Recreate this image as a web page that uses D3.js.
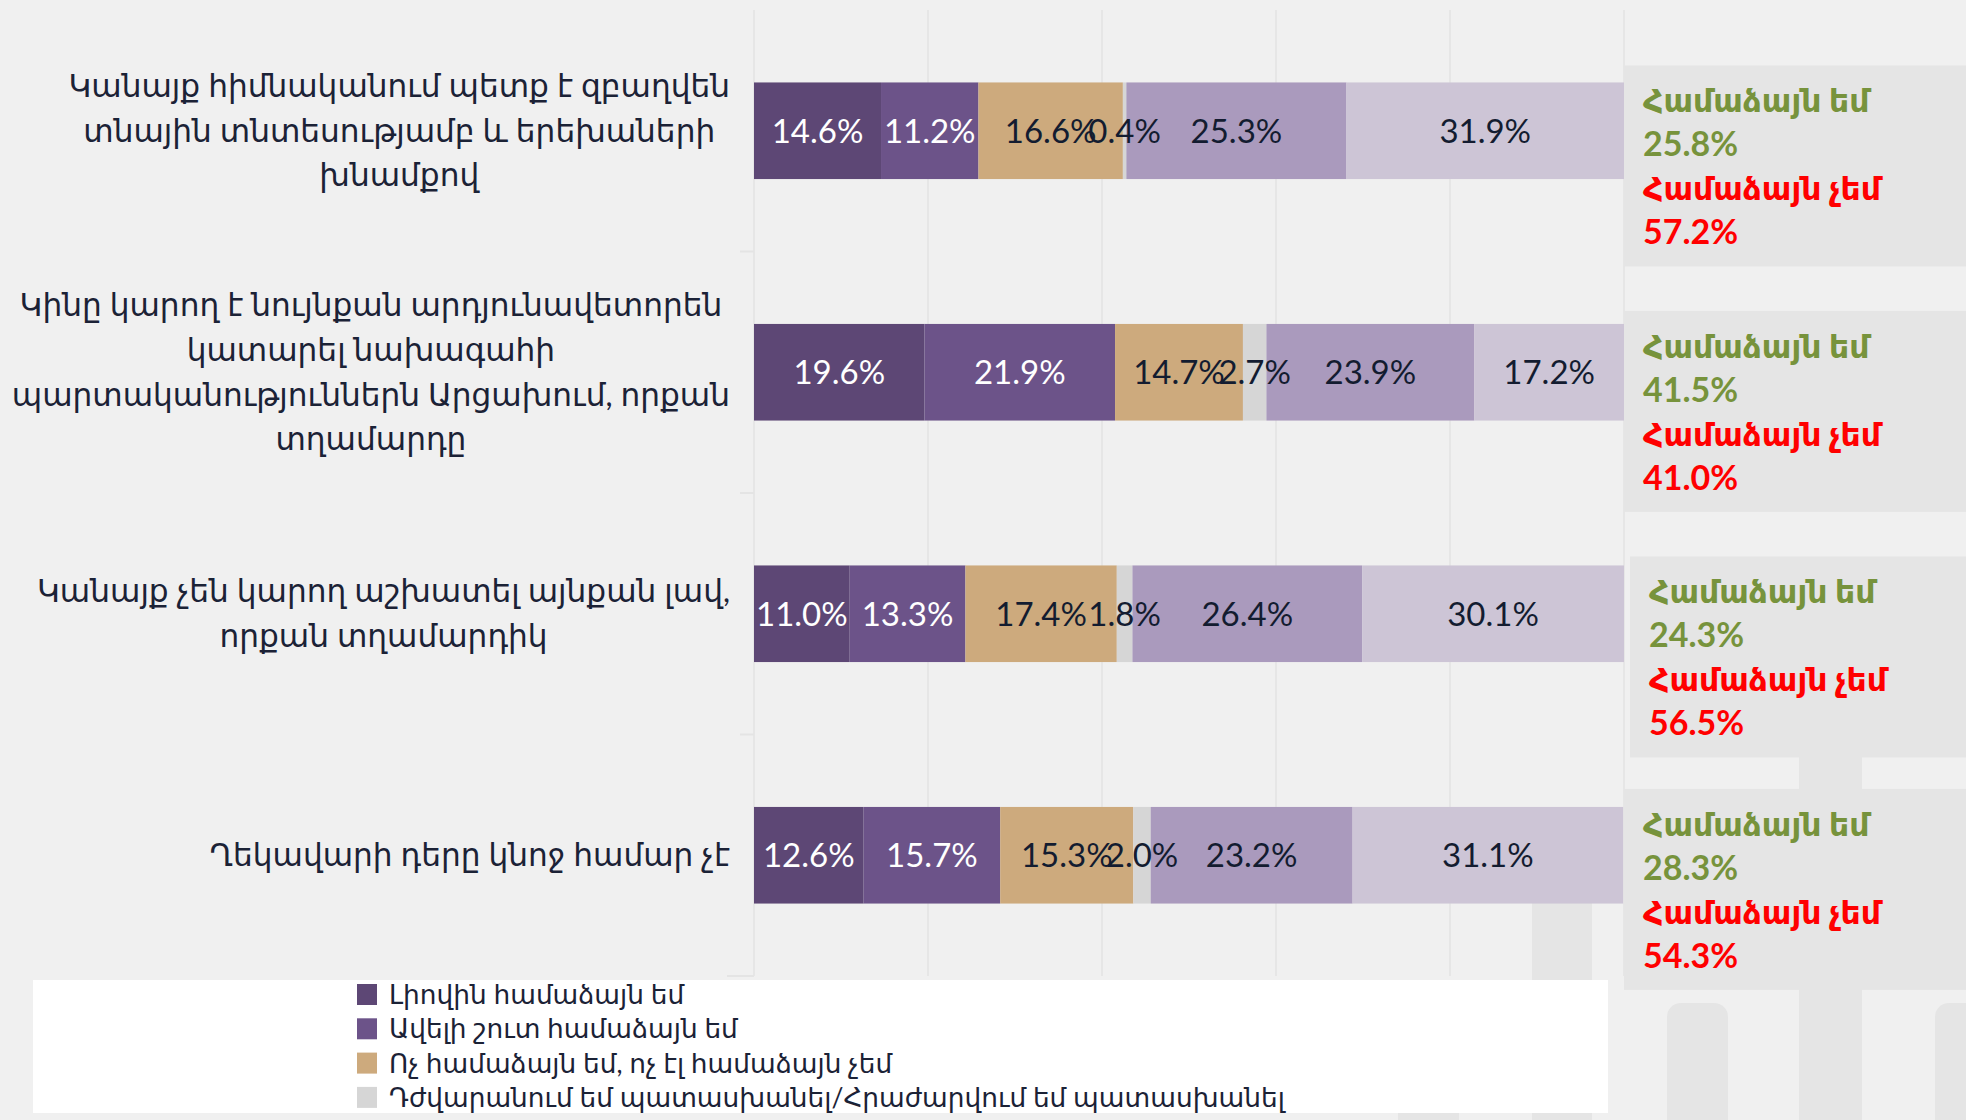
<!DOCTYPE html>
<html>
<head>
<meta charset="utf-8">
<script src="https://cdn.jsdelivr.net/npm/d3@7"></script>
<style>
  html, body { margin: 0; padding: 0; background: #f0f0f0; overflow: hidden; }
  svg text { font-family: Lato, "DejaVu Sans", sans-serif; }
</style>
</head>
<body>
<div id="chart"></div>
<script>
(function(){

    var width = 1966;
    var height = 1120;

    // categories (line breaks as in the original)
    var categories = [
        ["Կանայք հիմնականում պետք է զբաղվեն", "տնային տնտեսությամբ և երեխաների", "խնամքով"],
        ["Կինը կարող է նույնքան արդյունավետորեն", "կատարել նախագահի", "պարտականություններն Արցախում, որքան", "տղամարդը"],
        ["Կանայք չեն կարող աշխատել այնքան լավ,", "որքան տղամարդիկ"],
        ["Ղեկավարի դերը կնոջ համար չէ"]
    ];

    var seriesNames = [
        "Լիովին համաձայն եմ",
        "Ավելի շուտ համաձայն եմ",
        "Ոչ համաձայն եմ, ոչ էլ համաձայն չեմ",
        "Դժվարանում եմ պատասխանել/Հրաժարվում եմ պատասխանել",
        "Ավելի շուտ համաձայն չեմ",
        "Բոլորովին համաձայն չեմ"
    ];

    var fullyAgree     = [14.6, 19.6, 11.0, 12.6];
    var ratherAgree    = [11.2, 21.9, 13.3, 15.7];
    var neutral        = [16.6, 14.7, 17.4, 15.3];
    var dontKnow       = [0.4, 2.7, 1.8, 2.0];
    var ratherDisagree = [25.3, 23.9, 26.4, 23.2];
    var fullyDisagree  = [31.9, 17.2, 30.1, 31.1];

    var agreeTotals    = [25.8, 41.5, 24.3, 28.3];
    var disagreeTotals = [57.2, 41.0, 56.5, 54.3];

    var agreeLabel = "Համաձայն եմ";
    var disagreeLabel = "Համաձայն չեմ";

    var xTicks = [0, 20, 40, 60, 80, 100];

    var colours = ["#5d4775", "#6c5389", "#cdaa7d", "#d6d6d6", "#aa9abd", "#cdc5d6"];
    var labelColours = ["#ffffff", "#ffffff", "#131c30", "#131c30", "#131c30", "#131c30"];

    var margin = { top: 10, bottom: 144, left: 754, right: 342 };

    var svg = d3.select("#chart")
        .append("svg")
            .attr("width", width)
            .attr("height", height);

    // background decoration columns (slide template)
    var deco = [
        {x: 1398, y: 1100, w: 61, r: 0},
        {x: 1532, y: 903, w: 60, r: 0},
        {x: 1667, y: 1003, w: 61, r: 14},
        {x: 1799, y: 756, w: 63, r: 0},
        {x: 1935, y: 1003, w: 61, r: 14}
    ];
    svg.append("g").selectAll("rect")
        .data(deco)
        .enter().append("rect")
            .attr("x", function(d){ return d.x; })
            .attr("y", function(d){ return d.y; })
            .attr("width", function(d){ return d.w; })
            .attr("height", function(d){ return height - d.y + 20; })
            .attr("rx", function(d){ return d.r; })
            .attr("fill", "#e5e5e5");

    var innerW = width - margin.left - margin.right;
    var innerH = height - margin.top - margin.bottom;

    var x = d3.scaleLinear().domain([0, 100]).range([margin.left, margin.left + innerW]);
    var y = d3.scaleBand()
        .domain(d3.range(categories.length))
        .range([margin.top, margin.top + innerH])
        .paddingInner(0.6)
        .paddingOuter(0.3);

    // grid
    svg.append("g")
        .selectAll("line")
        .data(xTicks)
        .enter().append("line")
            .attr("x1", function(d){ return x(d); })
            .attr("x2", function(d){ return x(d); })
            .attr("y1", margin.top)
            .attr("y2", margin.top + innerH)
            .attr("stroke", "#e6e6e6")
            .attr("stroke-width", 2);

    // category separators on the left axis
    var step = y.step();
    svg.append("g")
        .selectAll("line")
        .data(d3.range(1, categories.length + 1))
        .enter().append("line")
            .attr("x1", function(d){ return d === categories.length ? margin.left - 27 : margin.left - 14; })
            .attr("x2", margin.left)
            .attr("y1", function(d){ return margin.top + d * step; })
            .attr("y2", function(d){ return margin.top + d * step; })
            .attr("stroke", "#e4e4e4")
            .attr("stroke-width", 2);

    var values = [fullyAgree, ratherAgree, neutral, dontKnow, ratherDisagree, fullyDisagree];

    var rows = categories.map(function(c, i){
        var row = { index: i };
        values.forEach(function(v, k){ row[k] = v[i]; });
        return row;
    });

    var stack = d3.stack().keys(d3.range(values.length));
    var stacked = stack(rows);

    var layer = svg.append("g")
        .selectAll("g")
        .data(stacked)
        .enter().append("g")
            .attr("fill", function(d){ return colours[d.key]; });

    layer.selectAll("rect")
        .data(function(d){ return d; })
        .enter().append("rect")
            .attr("x", function(d){ return x(d[0]); })
            .attr("y", function(d){ return y(d.data.index); })
            .attr("width", function(d){ return x(d[1]) - x(d[0]); })
            .attr("height", y.bandwidth());

    // value labels
    var fmt = d3.format(".1f");
    stacked.forEach(function(s){
        svg.append("g")
            .selectAll("text")
            .data(s)
            .enter().append("text")
                .attr("x", function(d){ return (x(d[0]) + x(d[1])) / 2; })
                .attr("y", function(d){ return y(d.data.index) + y.bandwidth() / 2; })
                .attr("dy", "0.36em")
                .attr("text-anchor", "middle")
                .attr("font-size", 33)
                .attr("fill", labelColours[s.key])
                .text(function(d){ return fmt(d[1] - d[0]) + "%"; });
    });

    // category labels: right aligned block, centred lines
    var lineH = 44.7;
    var labelRight = 730;
    categories.forEach(function(lines, i){
        var g = svg.append("g");
        var t = g.append("text")
            .attr("text-anchor", "middle")
            .attr("font-size", 31.2)
            .attr("fill", "#1b2236");
        var cy = y(i) + y.bandwidth() / 2;
        lines.forEach(function(l, j){
            t.append("tspan")
                .attr("x", 0)
                .attr("y", cy + (j - (lines.length - 1) / 2) * lineH)
                .attr("dy", "0.35em")
                .text(l);
        });
        var maxW = 0;
        t.selectAll("tspan").each(function(){
            maxW = Math.max(maxW, this.getComputedTextLength());
        });
        t.selectAll("tspan").attr("x", labelRight - maxW / 2);
    });

    // agree / disagree boxes on the right
    var boxOffsets = [-17, -13, -9, -18];
    var boxX = [1624, 1624, 1630, 1624];
    categories.forEach(function(c, i){
        var top = y(i) + boxOffsets[i];
        var g = svg.append("g").attr("transform", "translate(" + boxX[i] + "," + top + ")");
        g.append("rect")
            .attr("width", width - boxX[i])
            .attr("height", 201)
            .attr("fill", "#e5e5e5");
        var items = [
            {t: agreeLabel, c: "#77933c", s: 31.5},
            {t: fmt(agreeTotals[i]) + "%", c: "#77933c", s: 34},
            {t: disagreeLabel, c: "#ff0000", s: 31.5},
            {t: fmt(disagreeTotals[i]) + "%", c: "#ff0000", s: 34}
        ];
        g.selectAll("text")
            .data(items)
            .enter().append("text")
                .attr("x", 19)
                .attr("y", function(d, k){ return 47 + k * 44; })
                .attr("font-size", function(d){ return d.s; })
                .attr("font-weight", "bold")
                .attr("fill", function(d){ return d.c; })
                .text(function(d){ return d.t; });
    });

    // legend
    var legend = svg.append("g");
    legend.append("rect")
        .attr("x", 33)
        .attr("y", 980)
        .attr("width", 1575)
        .attr("height", 133)
        .attr("fill", "#ffffff");

    var legendItems = legend.selectAll("g")
        .data(seriesNames.slice(0, 4))
        .enter().append("g")
            .attr("transform", function(d, i){ return "translate(357," + (984 + i * 34.3) + ")"; });

    legendItems.append("rect")
        .attr("width", 20)
        .attr("height", 21)
        .attr("fill", function(d, i){ return colours[i]; });

    legendItems.append("text")
        .attr("x", 32)
        .attr("y", 10.5)
        .attr("dy", "0.36em")
        .attr("font-size", 26.4)
        .attr("fill", "#1b2236")
        .text(function(d){ return d; });

})();
</script>
</body>
</html>
